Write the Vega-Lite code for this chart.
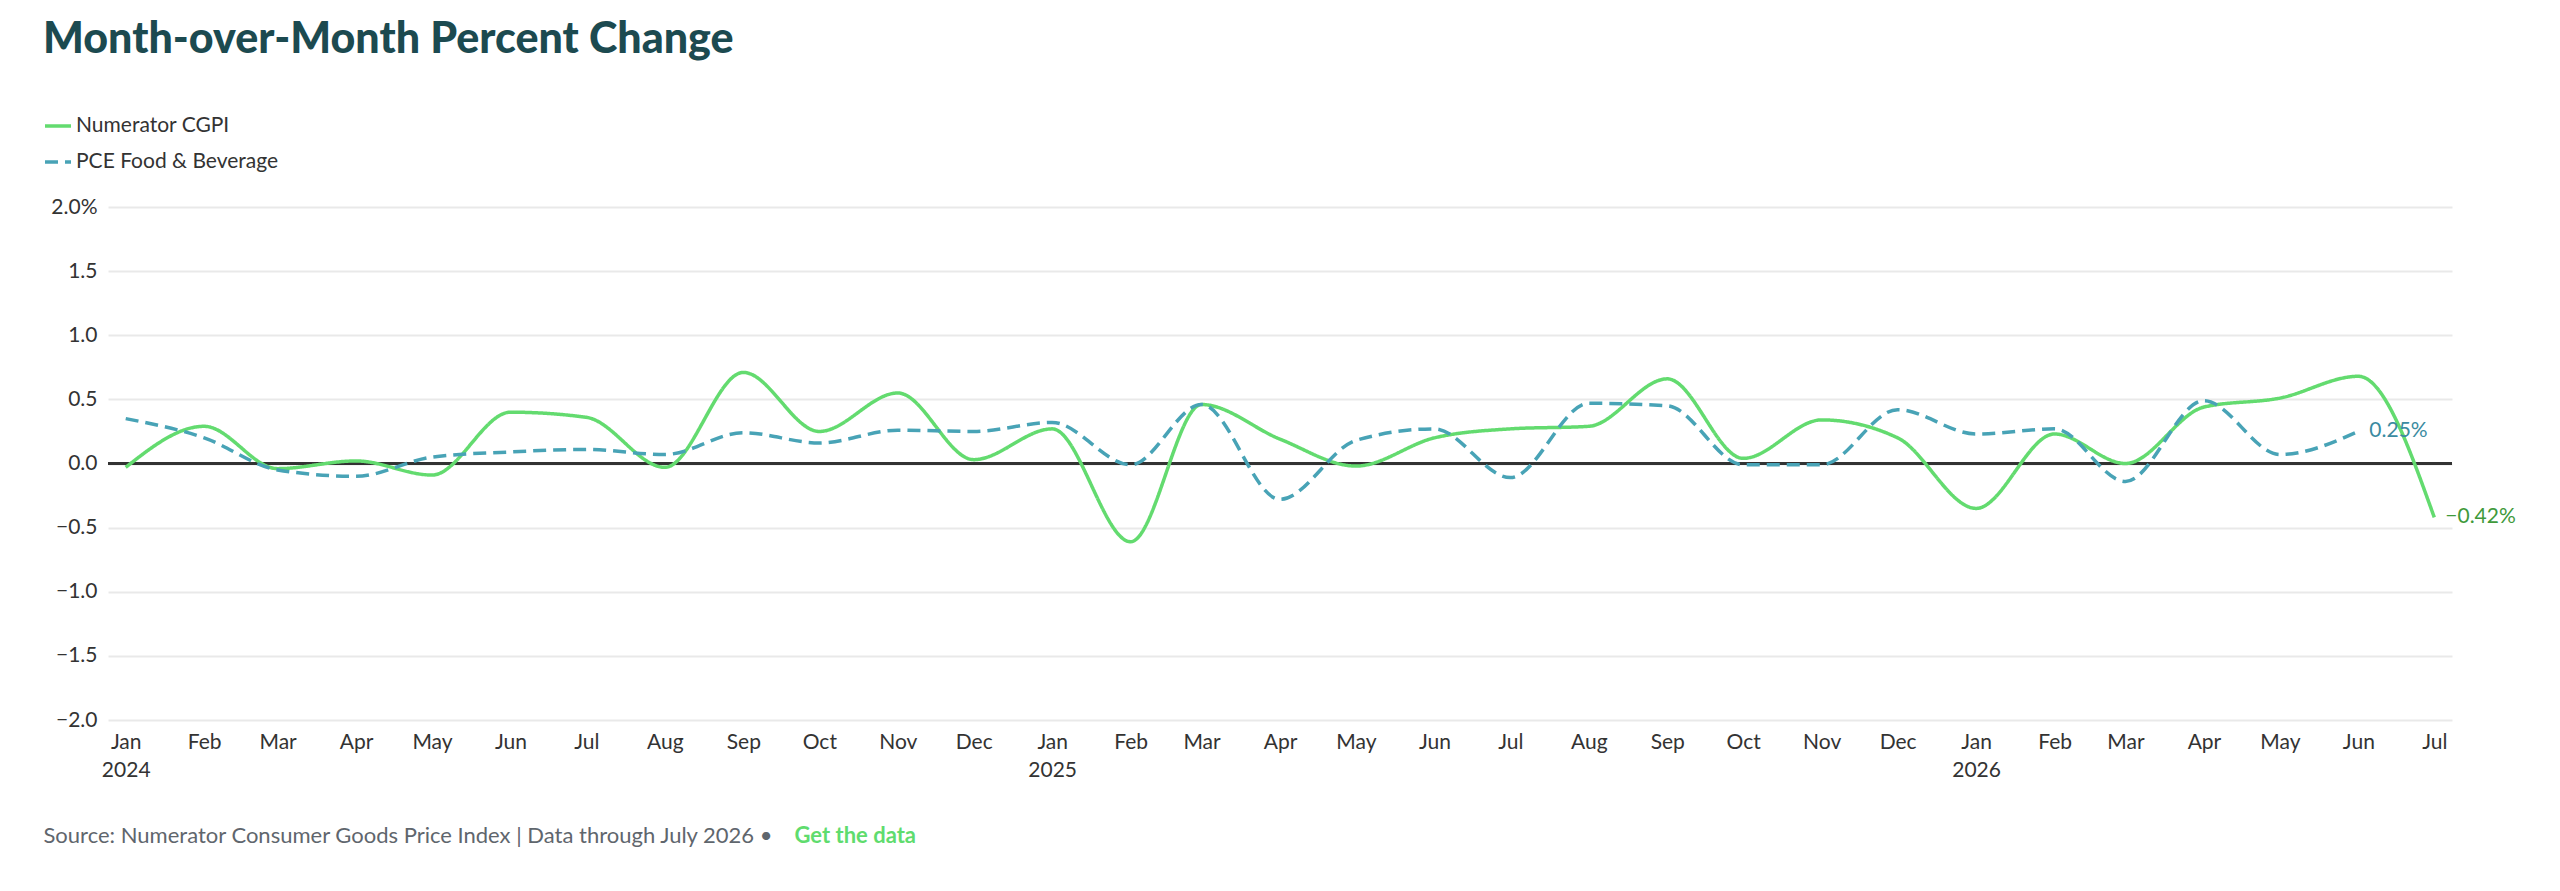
{
  "$schema": "https://vega.github.io/schema/vega-lite/v6.json",
  "description": "Month-over-month percent change, Numerator CGPI vs PCE Food & Beverage",
  "autosize": {"type": "none"},
  "padding": {"left": 108, "top": 207, "right": 108, "bottom": 171},
  "width": 2344,
  "height": 513,
  "background": "white",
  "title": {
    "text": "Month-over-Month Percent Change",
    "anchor": "start",
    "frame": "group",
    "dx": -65,
    "font": "Lato",
    "fontSize": 43,
    "fontWeight": 900,
    "color": "#1c4a50",
    "offset": 49
  },
  "data": {
    "values": [
      {"month": "2024-01-01", "series": "Numerator CGPI", "value": -0.03},
      {"month": "2024-02-01", "series": "Numerator CGPI", "value": 0.29},
      {"month": "2024-03-01", "series": "Numerator CGPI", "value": -0.04},
      {"month": "2024-04-01", "series": "Numerator CGPI", "value": 0.02},
      {"month": "2024-05-01", "series": "Numerator CGPI", "value": -0.09},
      {"month": "2024-06-01", "series": "Numerator CGPI", "value": 0.40},
      {"month": "2024-07-01", "series": "Numerator CGPI", "value": 0.36},
      {"month": "2024-08-01", "series": "Numerator CGPI", "value": -0.03},
      {"month": "2024-09-01", "series": "Numerator CGPI", "value": 0.71},
      {"month": "2024-10-01", "series": "Numerator CGPI", "value": 0.25},
      {"month": "2024-11-01", "series": "Numerator CGPI", "value": 0.55},
      {"month": "2024-12-01", "series": "Numerator CGPI", "value": 0.03},
      {"month": "2025-01-01", "series": "Numerator CGPI", "value": 0.27},
      {"month": "2025-02-01", "series": "Numerator CGPI", "value": -0.61},
      {"month": "2025-03-01", "series": "Numerator CGPI", "value": 0.46},
      {"month": "2025-04-01", "series": "Numerator CGPI", "value": 0.19},
      {"month": "2025-05-01", "series": "Numerator CGPI", "value": -0.02},
      {"month": "2025-06-01", "series": "Numerator CGPI", "value": 0.20},
      {"month": "2025-07-01", "series": "Numerator CGPI", "value": 0.27},
      {"month": "2025-08-01", "series": "Numerator CGPI", "value": 0.29},
      {"month": "2025-09-01", "series": "Numerator CGPI", "value": 0.66},
      {"month": "2025-10-01", "series": "Numerator CGPI", "value": 0.04},
      {"month": "2025-11-01", "series": "Numerator CGPI", "value": 0.34},
      {"month": "2025-12-01", "series": "Numerator CGPI", "value": 0.20},
      {"month": "2026-01-01", "series": "Numerator CGPI", "value": -0.35},
      {"month": "2026-02-01", "series": "Numerator CGPI", "value": 0.23},
      {"month": "2026-03-01", "series": "Numerator CGPI", "value": 0.00},
      {"month": "2026-04-01", "series": "Numerator CGPI", "value": 0.44},
      {"month": "2026-05-01", "series": "Numerator CGPI", "value": 0.51},
      {"month": "2026-06-01", "series": "Numerator CGPI", "value": 0.68},
      {"month": "2026-07-01", "series": "Numerator CGPI", "value": -0.42},
      {"month": "2024-01-01", "series": "PCE Food & Beverage", "value": 0.35},
      {"month": "2024-02-01", "series": "PCE Food & Beverage", "value": 0.20},
      {"month": "2024-03-01", "series": "PCE Food & Beverage", "value": -0.05},
      {"month": "2024-04-01", "series": "PCE Food & Beverage", "value": -0.10},
      {"month": "2024-05-01", "series": "PCE Food & Beverage", "value": 0.05},
      {"month": "2024-06-01", "series": "PCE Food & Beverage", "value": 0.09},
      {"month": "2024-07-01", "series": "PCE Food & Beverage", "value": 0.11},
      {"month": "2024-08-01", "series": "PCE Food & Beverage", "value": 0.07},
      {"month": "2024-09-01", "series": "PCE Food & Beverage", "value": 0.24},
      {"month": "2024-10-01", "series": "PCE Food & Beverage", "value": 0.16},
      {"month": "2024-11-01", "series": "PCE Food & Beverage", "value": 0.26},
      {"month": "2024-12-01", "series": "PCE Food & Beverage", "value": 0.25},
      {"month": "2025-01-01", "series": "PCE Food & Beverage", "value": 0.32},
      {"month": "2025-02-01", "series": "PCE Food & Beverage", "value": -0.01},
      {"month": "2025-03-01", "series": "PCE Food & Beverage", "value": 0.46},
      {"month": "2025-04-01", "series": "PCE Food & Beverage", "value": -0.28},
      {"month": "2025-05-01", "series": "PCE Food & Beverage", "value": 0.18},
      {"month": "2025-06-01", "series": "PCE Food & Beverage", "value": 0.27},
      {"month": "2025-07-01", "series": "PCE Food & Beverage", "value": -0.11},
      {"month": "2025-08-01", "series": "PCE Food & Beverage", "value": 0.47},
      {"month": "2025-09-01", "series": "PCE Food & Beverage", "value": 0.45},
      {"month": "2025-10-01", "series": "PCE Food & Beverage", "value": -0.01},
      {"month": "2025-11-01", "series": "PCE Food & Beverage", "value": -0.01},
      {"month": "2025-12-01", "series": "PCE Food & Beverage", "value": 0.42},
      {"month": "2026-01-01", "series": "PCE Food & Beverage", "value": 0.23},
      {"month": "2026-02-01", "series": "PCE Food & Beverage", "value": 0.27},
      {"month": "2026-03-01", "series": "PCE Food & Beverage", "value": -0.14},
      {"month": "2026-04-01", "series": "PCE Food & Beverage", "value": 0.49},
      {"month": "2026-05-01", "series": "PCE Food & Beverage", "value": 0.07},
      {"month": "2026-06-01", "series": "PCE Food & Beverage", "value": 0.25}
    ]
  },
  "encoding": {
    "x": {
      "field": "month",
      "type": "temporal",
      "scale": {
        "type": "utc",
        "domain": [
          {"year": 2023, "month": 12, "date": 25, "utc": true},
          {"year": 2026, "month": 7, "date": 8, "utc": true}
        ]
      },
      "axis": {
        "title": "Source: Numerator Consumer Goods Price Index | Data through July 2026 \u2022",
        "titleX": -65,
        "titleY": 115,
        "titleAlign": "left",
        "titleBaseline": "middle",
        "titleFont": "Lato",
        "titleFontSize": 22,
        "titleFontWeight": "normal",
        "titleColor": "#5f666d",
        "titleLimit": 0,
        "tickCount": {"interval": "month", "step": 1},
        "labelExpr": "utcmonth(datum.value) == 0 ? [utcFormat(datum.value, '%b'), utcFormat(datum.value, '%Y')] : utcFormat(datum.value, '%b')",
        "labelFont": "Lato",
        "labelFontSize": 21,
        "labelColor": "#333333",
        "labelLineHeight": 28,
        "labelPadding": 11,
        "labelFlush": false,
        "labelOverlap": false,
        "labelBound": false,
        "domain": false,
        "ticks": false,
        "grid": false
      }
    },
    "y": {
      "field": "value",
      "type": "quantitative",
      "scale": {"domain": [-2, 2], "nice": false, "zero": false},
      "axis": {
        "title": "Get the data",
        "titleAngle": 0,
        "titleX": 686,
        "titleY": 628,
        "titleAlign": "left",
        "titleBaseline": "middle",
        "titleFont": "Lato",
        "titleFontSize": 22,
        "titleFontWeight": "bold",
        "titleColor": "#5fdc6e",
        "values": [-2, -1.5, -1, -0.5, 0, 0.5, 1, 1.5, 2],
        "labelExpr": "datum.value == 2 ? '2.0%' : format(datum.value, '.1f')",
        "labelFont": "Lato",
        "labelFontSize": 21,
        "labelColor": "#333333",
        "labelPadding": 11,
        "domain": false,
        "ticks": false,
        "gridColor": "#e9e9e9",
        "gridWidth": 2
      }
    }
  },
  "layer": [
    {
      "mark": {"type": "rule", "color": "#333333", "strokeWidth": 2},
      "encoding": {"y": {"datum": 0}, "x": null}
    },
    {
      "mark": {"type": "line", "interpolate": "monotone", "strokeWidth": 3.5},
      "encoding": {
        "color": {
          "field": "series",
          "type": "nominal",
          "scale": {
            "domain": ["Numerator CGPI", "PCE Food & Beverage"],
            "range": ["#63db6f", "#48a3b6"]
          },
          "legend": {
            "title": null,
            "orient": "none",
            "legendX": -65,
            "legendY": -96,
            "direction": "vertical",
            "padding": 0,
            "symbolType": "stroke",
            "symbolSize": 676,
            "symbolStrokeWidth": 3.5,
            "labelFont": "Lato",
            "labelFontSize": 21,
            "labelColor": "#333333",
            "labelLimit": 0,
            "labelOffset": 3,
            "rowPadding": 11,
            "encode": {
              "symbols": {
                "update": {
                  "strokeDash": {"signal": "datum.value == 'PCE Food & Beverage' ? [10, 6] : [1, 0]"}
                }
              }
            }
          }
        },
        "strokeDash": {
          "field": "series",
          "type": "nominal",
          "scale": {
            "domain": ["Numerator CGPI", "PCE Food & Beverage"],
            "range": [[1, 0], [13, 7]]
          },
          "legend": null
        }
      }
    },
    {
      "transform": [
        {"filter": "datum.series == 'PCE Food & Beverage'"},
        {"joinaggregate": [{"op": "max", "field": "month", "as": "last"}]},
        {"filter": "datum.month == datum.last"},
        {"calculate": "format(datum.value, '.2f') + '%'", "as": "label"}
      ],
      "mark": {
        "type": "text",
        "align": "left",
        "baseline": "middle",
        "dx": 11,
        "font": "Lato",
        "fontSize": 21,
        "color": "#3b8ba1"
      },
      "encoding": {"text": {"field": "label"}}
    },
    {
      "transform": [
        {"filter": "datum.series == 'Numerator CGPI'"},
        {"joinaggregate": [{"op": "max", "field": "month", "as": "last"}]},
        {"filter": "datum.month == datum.last"},
        {"calculate": "format(datum.value, '.2f') + '%'", "as": "label"}
      ],
      "mark": {
        "type": "text",
        "align": "left",
        "baseline": "middle",
        "dx": 11,
        "font": "Lato",
        "fontSize": 21,
        "color": "#3f9a3b"
      },
      "encoding": {"text": {"field": "label"}}
    }
  ],
  "config": {
    "view": {"stroke": null}
  }
}
